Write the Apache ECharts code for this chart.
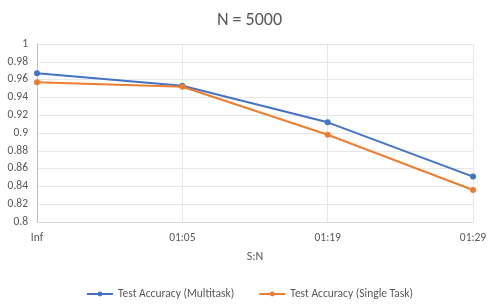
<!DOCTYPE html>
<html><head><meta charset="utf-8">
<script src="https://cdn.jsdelivr.net/npm/echarts@6/dist/echarts.min.js"></script>
<style>html,body{margin:0;padding:0;background:#fff}#c{width:499px;height:306px}</style>
</head><body><div id="c"></div>
<script>
const categories = ['Inf', '01:05', '01:19', '01:29'];
const multitask = [0.967, 0.953, 0.912, 0.851];
const singleTask = [0.957, 0.952, 0.898, 0.836];
const yTicks = { min: 0.8, max: 1, interval: 0.02 };

const chart = echarts.init(document.getElementById('c'));
const font = 'Carlito, Lato, "Liberation Sans", sans-serif';
chart.setOption({
  animation: false,
  textStyle: { fontFamily: font },
  title: { text: 'N = 5000', left: 'center', top: 6, textStyle: { fontSize: 18, fontWeight: 'normal', color: '#595959', fontFamily: font } },
  grid: { left: 37, right: 26, top: 44, bottom: 84 },
  legend: {
    left: 'center', itemGap: 24, itemWidth: 26, itemHeight: 6,
    top: 283,
    textStyle: { color: '#595959', fontSize: 11.5, fontFamily: font },
    data: ['Test Accuracy (Multitask)', 'Test Accuracy (Single Task)']
  },
  xAxis: {
    type: 'category', data: categories, boundaryGap: false,
    name: 'S:N', nameLocation: 'middle', nameGap: 29,
    nameTextStyle: { color: '#595959', fontSize: 12 },
    axisLine: { lineStyle: { color: '#d9d9d9' } },
    axisTick: { show: false },
    axisLabel: { color: '#595959', fontSize: 11.5, margin: 10 },
    splitLine: { show: true, lineStyle: { color: '#e6e6e6' } }
  },
  yAxis: {
    type: 'value', min: yTicks.min, max: yTicks.max, interval: yTicks.interval,
    axisLine: { show: true, lineStyle: { color: '#bfbfbf' } },
    axisTick: { show: false },
    axisLabel: { color: '#595959', fontSize: 11.5, margin: 9 },
    splitLine: { lineStyle: { color: '#e6e6e6' } }
  },
  series: [
    { name: 'Test Accuracy (Multitask)', type: 'line', data: multitask, symbol: 'circle', symbolSize: 6,
      itemStyle: { color: '#4472C4' }, lineStyle: { width: 2, color: '#4472C4' } },
    { name: 'Test Accuracy (Single Task)', type: 'line', data: singleTask, symbol: 'circle', symbolSize: 6,
      itemStyle: { color: '#ED7D31' }, lineStyle: { width: 2, color: '#ED7D31' } }
  ]
});
</script></body></html>
